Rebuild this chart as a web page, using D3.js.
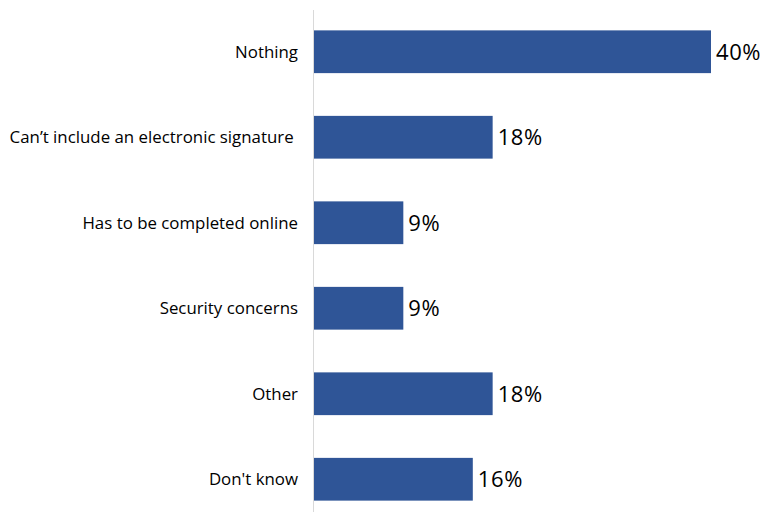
<!DOCTYPE html>
<html><head><meta charset="utf-8">
<script src="https://cdn.jsdelivr.net/npm/d3@7"></script>
<style>body{margin:0;background:#fff}svg{display:block}</style>
</head><body>
<svg id="c" width="764" height="512"></svg>
<script>
const categories = ["Nothing", "Can\u2019t include an electronic signature ", "Has to be completed online", "Security concerns", "Other", "Don't know"];
const values = [40, 18, 9, 9, 18, 16];
const valueLabels = ["40%", "18%", "9%", "9%", "18%", "16%"];

const svg = d3.select("#c");
const x = d3.scaleLinear().domain([0, 40]).range([314, 711]);
const y = d3.scaleBand().domain(categories).range([9, 522]).paddingInner(0.5).paddingOuter(0.25);

svg.append("line").attr("x1", 313.5).attr("x2", 313.5).attr("y1", 10).attr("y2", 512)
  .attr("stroke", "#d9d9d9").attr("stroke-width", 1);

svg.selectAll("rect.bar").data(values).enter().append("rect")
  .attr("class", "bar")
  .attr("x", x(0))
  .attr("y", (d, i) => y(categories[i]))
  .attr("width", d => x(d) - x(0))
  .attr("height", y.bandwidth())
  .attr("fill", "#2F5597");

svg.selectAll("text.cat").data(categories).enter().append("text")
  .attr("class", "cat")
  .attr("x", 298)
  .attr("y", d => y(d) + y.bandwidth() / 2)
  .attr("dy", "0.35em")
  .attr("text-anchor", "end")
  .style("white-space", "pre")
  .attr("font-family", "Open Sans, sans-serif")
  .attr("font-size", 16.85)
  .attr("fill", "#000")
  .text(d => d);

svg.selectAll("text.val").data(values).enter().append("text")
  .attr("class", "val")
  .attr("x", d => x(d) + 5)
  .attr("y", (d, i) => y(categories[i]) + y.bandwidth() / 2)
  .attr("dy", "0.36em")
  .attr("font-family", "Open Sans, sans-serif")
  .attr("font-size", 22)
  .attr("letter-spacing", 0.6)
  .attr("fill", "#000")
  .text((d, i) => valueLabels[i]);
</script>
</body></html>
